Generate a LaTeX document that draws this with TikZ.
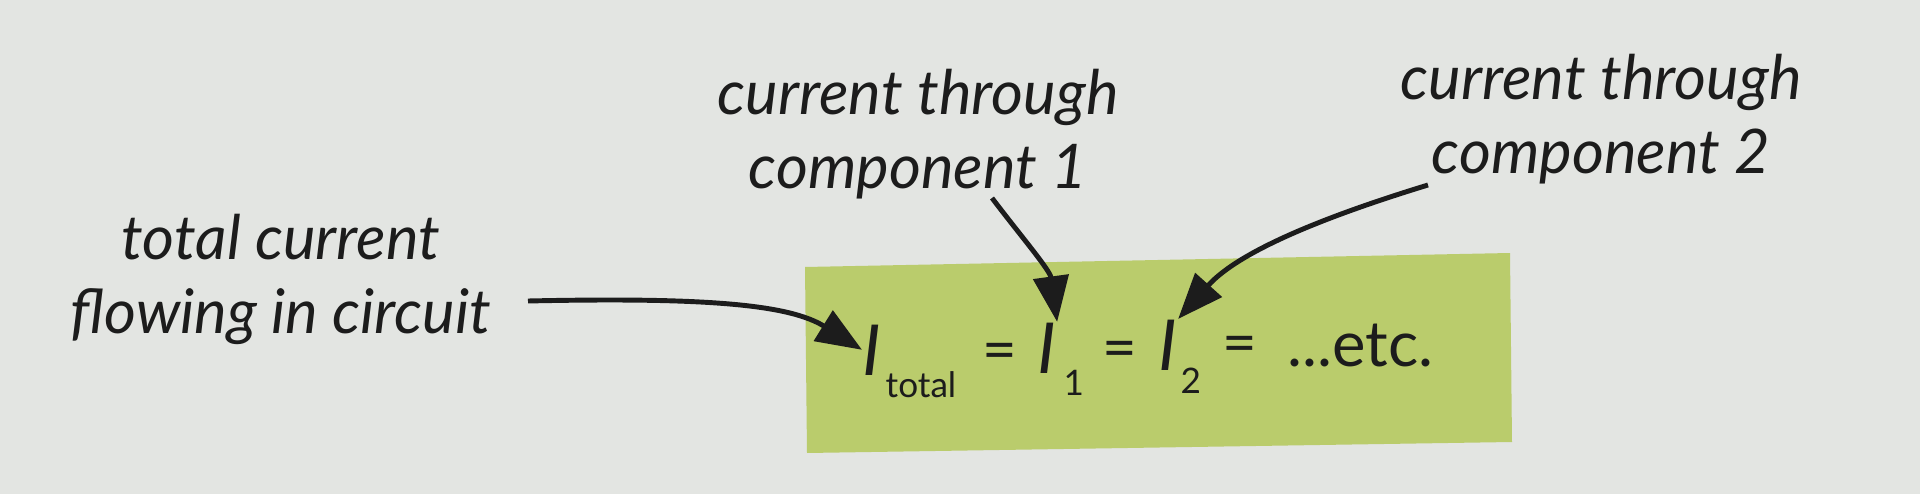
\documentclass[tikz,border=0pt]{standalone}
\usepackage{fontspec}
\setmainfont{Lato}
\usetikzlibrary{arrows.meta}

\definecolor{paper}{RGB}{227,229,226}
\definecolor{boxgreen}{RGB}{186,204,108}
\definecolor{ink}{RGB}{28,28,28}

\tikzset{
  lbl/.style={font=\fontsize{17.5}{21}\selectfont\itshape, align=center, inner sep=0pt, text=ink},
  sym/.style={font=\fontsize{20}{24}\selectfont, inner sep=0pt, text=ink},
  eqsign/.style={font=\fontsize{17}{20}\selectfont, inner sep=0pt, text=ink},
  sub/.style={font=\fontsize{10}{12}\selectfont, inner sep=0pt, text=ink},
  pointer/.style={draw=ink, line width=1.4pt, -{Triangle[length=13pt,width=10pt]}}
}

\begin{document}
\begin{tikzpicture}[x=0.01cm,y=-0.01cm]
  \useasboundingbox (0,0) rectangle (1920,494);
  \fill[paper] (0,0) rectangle (1920,494);
  \fill[boxgreen] (805,267) -- (1510,253) -- (1512,442) -- (807,453) -- cycle;

  % labels (base = last line)
  \node[lbl, anchor=base] (total) at (281,333) {total current\\flowing in circuit};
  \node[lbl, anchor=base] (thru1) at (918,188) {current through\\component 1};
  \node[lbl, anchor=base] (thru2) at (1601,173) {current through\\component 2};

  % the equation
  \node[sym, anchor=base west] (itot) at (862,375) {\itshape I};
  \node[sub, anchor=base west] (stot) at (885,397) {total};
  \node[eqsign] (eqa) at (1000,357) {=};
  \node[sym, anchor=base west] (ione) at (1037,373) {\itshape I};
  \node[sub, anchor=base west] (sone) at (1063,395) {1};
  \node[eqsign] (eqb) at (1120,355) {=};
  \node[sym, anchor=base west] (itwo) at (1158,370) {\itshape I};
  \node[sub, anchor=base west] (stwo) at (1180,393) {2};
  \node[eqsign] (eqc) at (1240,350) {=};
  \node[sym, font=\fontsize{18}{22}\selectfont, anchor=base west] (etc) at (1287,366) {...etc.};

  % pointers
  \coordinate (s1) at (528,301);
  \coordinate (s2) at (992,198);
  \coordinate (s3) at (1428,185);
  \draw[pointer] (s1) .. controls (710,297) and (790,305) .. (itot.west);
  \draw[pointer] (s2) .. controls (1020,235) and (1050,270) .. (ione.north east);
  \draw[pointer] (s3) .. controls (1330,215) and (1240,250) .. (itwo.north east);
\end{tikzpicture}
\end{document}
